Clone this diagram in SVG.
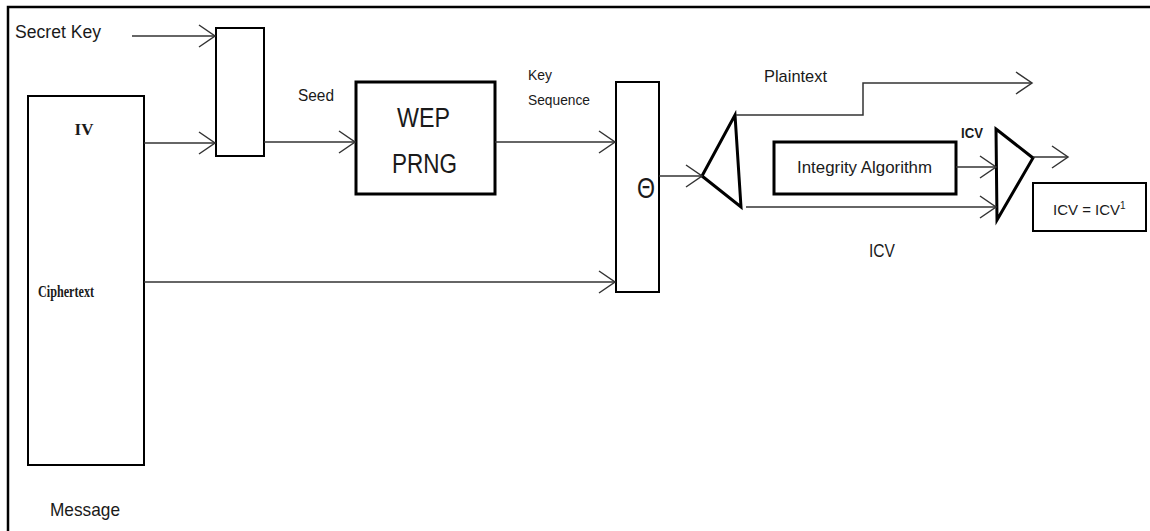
<svg xmlns="http://www.w3.org/2000/svg" width="1150" height="531" viewBox="0 0 1150 531">
<style>
.frame{fill:none;stroke:#000;stroke-width:2.5}
.box{fill:#fff;stroke:#000;stroke-width:2}
.thick{fill:#fff;stroke:#000;stroke-width:3}
.tri{fill:none;stroke:#000;stroke-width:3;stroke-linejoin:miter}
.conn{fill:none;stroke:#333;stroke-width:1.5}
.t{font-family:"Liberation Sans",Arial,sans-serif;fill:#1a1a1a}
.s{font-family:"Liberation Serif","Times New Roman",serif;font-weight:bold;fill:#1a1a1a}
</style>
<defs>
<marker id="arr" markerUnits="userSpaceOnUse" markerWidth="20" markerHeight="26" viewBox="-18 -13 20 26" refX="0" refY="0" orient="auto">
<path d="M-16,-11 L0,0 L-16,11" fill="none" stroke="#333" stroke-width="1.5"/>
</marker>
</defs>
<path class="frame" d="M8,531 V7 H1150"/>
<text class="t" x="15" y="38" font-size="18" textLength="86" lengthAdjust="spacingAndGlyphs">Secret Key</text>
<g id="message">
<rect class="box" x="28" y="96" width="116" height="369"/>
<text class="s" x="84" y="135" font-size="17" text-anchor="middle">IV</text>
<text class="s" x="38" y="297" font-size="17" textLength="56" lengthAdjust="spacingAndGlyphs">Ciphertext</text>
<text class="t" x="50" y="516" font-size="19" textLength="70" lengthAdjust="spacingAndGlyphs">Message</text>
</g>
<g id="concat">
<rect class="box" x="216" y="28" width="48" height="128"/>
</g>
<g id="prng">
<rect class="thick" x="356" y="82" width="139" height="112"/>
<text class="t" x="397" y="127" font-size="27" textLength="53" lengthAdjust="spacingAndGlyphs">WEP</text>
<text class="t" x="392" y="173" font-size="27" textLength="65" lengthAdjust="spacingAndGlyphs">PRNG</text>
</g>
<g id="xor">
<rect class="box" x="616" y="82" width="43" height="210"/>
<text class="t" x="637" y="198" font-size="29" textLength="18" lengthAdjust="spacingAndGlyphs">Θ</text>
</g>
<g id="split">
<polygon class="tri" points="702,176 735,115 741,207"/>
</g>
<g id="integrity">
<rect class="thick" x="774" y="142" width="182" height="52"/>
<text class="t" x="797" y="173" font-size="16" textLength="135" lengthAdjust="spacingAndGlyphs">Integrity Algorithm</text>
</g>
<g id="compare">
<polygon class="tri" points="996,129 1033,158 997,220"/>
</g>
<g id="result">
<rect class="box" x="1033" y="183" width="113" height="48"/>
<text class="t" x="1053" y="215" font-size="15">ICV = ICV<tspan font-size="10" dy="-6">1</tspan></text>
</g>
<g id="labels">
<text class="t" x="298" y="101" font-size="16" textLength="36" lengthAdjust="spacingAndGlyphs">Seed</text>
<text class="t" x="528" y="80" font-size="14" textLength="24" lengthAdjust="spacingAndGlyphs">Key</text>
<text class="t" x="528" y="105" font-size="14" textLength="62" lengthAdjust="spacingAndGlyphs">Sequence</text>
<text class="t" x="764" y="82" font-size="17" textLength="63" lengthAdjust="spacingAndGlyphs">Plaintext</text>
<text class="t" x="961" y="138" font-size="14" font-weight="bold" textLength="22" lengthAdjust="spacingAndGlyphs">ICV</text>
<text class="t" x="869" y="257" font-size="19" textLength="26" lengthAdjust="spacingAndGlyphs">ICV</text>
</g>
<g id="connectors">
<path class="conn" d="M132,36 H215" marker-end="url(#arr)"/>
<path class="conn" d="M144,143 H215" marker-end="url(#arr)"/>
<path class="conn" d="M264,142 H355" marker-end="url(#arr)"/>
<path class="conn" d="M495,142 H615" marker-end="url(#arr)"/>
<path class="conn" d="M144,282 H615" marker-end="url(#arr)"/>
<path class="conn" d="M659,176 H702" marker-end="url(#arr)"/>
<path class="conn" d="M736,115 H863 V83 H1032" marker-end="url(#arr)"/>
<path class="conn" d="M746,207 H996" marker-end="url(#arr)"/>
<path class="conn" d="M956,167 H996" marker-end="url(#arr)"/>
<path class="conn" d="M1033,157 H1068" marker-end="url(#arr)"/>
</g>
</svg>
